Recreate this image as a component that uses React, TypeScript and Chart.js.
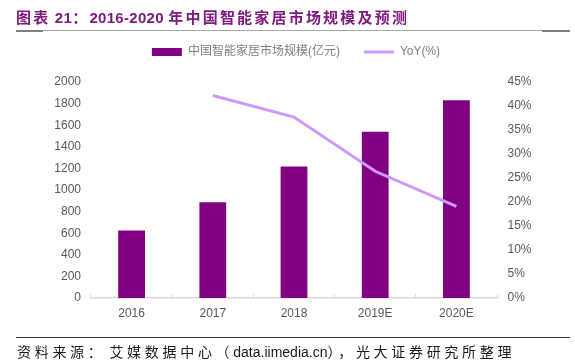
import React, { useEffect, useRef } from "react";
import { Chart, registerables } from "chart.js";

Chart.register(...registerables);

// ---- data ----
const categories = ["2016", "2017", "2018", "2019E", "2020E"];
const marketSize = [625, 887, 1218, 1539, 1831];
const yoyPct = [null, 42.2, 37.7, 26.4, 19.1];
const seriesNames = ["中国智能家居市场规模(亿元)", "YoY(%)"];
const leftAxis = { min: 0, max: 2000, step: 200 };
const rightAxis = { min: 0, max: 45, step: 5 };

const titleParts = [
  { t: "图表", cjk: true },
  { t: " 21", cjk: false },
  { t: "：", cjk: true },
  { t: "2016-2020 ", cjk: false },
  { t: "年中国智能家居市场规模及预测", cjk: true },
];
const footerParts = [
  { t: "资料来源：", cjk: true },
  { t: " ", cjk: false },
  { t: "艾媒数据中心（", cjk: true },
  { t: "data.iimedia.cn", cjk: false },
  { t: "），", cjk: true },
  { t: "光大证券研究所整理", cjk: true },
];

const LATIN = '"Liberation Sans", Arial, Helvetica, sans-serif';
const CJK = '"Noto Sans CJK SC", "Noto Sans", sans-serif';
const FONT = '"Liberation Sans", Arial, "Noto Sans CJK SC", sans-serif';

const BAR = "#800080";
const LINE = "#CC99FF";
const TITLE = "#7E1A80";

export default function App() {
  const ref = useRef<HTMLCanvasElement | null>(null);

  useEffect(() => {
    if (!ref.current) return;
    const chart = new Chart(ref.current, {
      type: "bar",
      data: {
        labels: categories,
        datasets: [
          {
            type: "bar",
            label: seriesNames[0],
            data: marketSize,
            backgroundColor: BAR,
            borderWidth: 0,
            yAxisID: "y",
            barPercentage: 0.33,
            categoryPercentage: 1,
            order: 2,
          },
          {
            type: "line",
            label: seriesNames[1],
            data: yoyPct as any,
            borderColor: LINE,
            backgroundColor: LINE,
            borderWidth: 3,
            pointRadius: 0,
            tension: 0,
            yAxisID: "y1",
            order: 1,
          },
        ],
      } as any,
      options: {
        responsive: false,
        animation: false,
        devicePixelRatio: 1,
        layout: { padding: { left: 17, right: 0, top: 22, bottom: 0 } },
        font: { family: FONT },
        plugins: {
          tooltip: { enabled: false },
          legend: {
            position: "top",
            labels: {
              usePointStyle: true,
              pointStyleWidth: 30,
              boxHeight: 8,
              padding: 24,
              color: "#808080",
              font: { size: 12, family: FONT },
              generateLabels: (c: any) =>
                c.data.datasets.map((ds: any, i: number) => ({
                  text: ds.label,
                  fillStyle: ds.backgroundColor,
                  strokeStyle: ds.borderColor ?? ds.backgroundColor,
                  lineWidth: i === 0 ? 0 : 3,
                  pointStyle: i === 0 ? "rect" : "line",
                  hidden: false,
                  datasetIndex: i,
                  fontColor: "#808080",
                })),
            },
          },
          subtitle: {
            display: true,
            text: " ",
            weight: 500,
            font: { size: 1, lineHeight: 1 },
            padding: { top: 0, bottom: 13 },
          },
        } as any,
        scales: {
          x: {
            grid: {
              display: true,
              drawOnChartArea: false,
              drawTicks: true,
              tickLength: -4,
              color: "#D9D9D9",
              offset: true,
            },
            border: { display: true, color: "#D9D9D9", width: 1.5 },
            ticks: { color: "#595959", font: { size: 12, family: FONT }, padding: 12 },
            afterFit: (s: any) => {
              s.height = 66;
            },
          },
          y: {
            position: "left",
            min: leftAxis.min,
            max: leftAxis.max,
            grid: { display: false, drawTicks: false },
            border: { display: false },
            ticks: {
              stepSize: leftAxis.step,
              color: "#595959",
              font: { size: 12, family: FONT },
              padding: 10,
              callback: (v: any) => String(v),
            },
            afterFit: (s: any) => {
              s.width = 74;
            },
          },
          y1: {
            position: "right",
            min: rightAxis.min,
            max: rightAxis.max,
            grid: { display: false, drawTicks: false },
            border: { display: false },
            ticks: {
              stepSize: rightAxis.step,
              color: "#595959",
              font: { size: 12, family: FONT },
              padding: 10.5,
              callback: (v: any) => `${v}%`,
            },
            afterFit: (s: any) => {
              s.width = 78;
            },
          },
        } as any,
      },
    });
    return () => chart.destroy();
  }, []);

  return (
    <div
      style={{
        position: "absolute",
        left: 0,
        top: 0,
        width: 575,
        height: 364,
        overflow: "hidden",
        background: "#fff",
      }}
    >
      <canvas
        ref={ref}
        width={575}
        height={364}
        style={{ position: "absolute", left: 0, top: 0, width: 575, height: 364 }}
      />
      <div
        style={{
          position: "absolute",
          left: 16,
          top: 7,
          fontSize: 15,
          lineHeight: "20px",
          fontWeight: 700,
          color: TITLE,
          whiteSpace: "nowrap",
        }}
      >
        {titleParts.map((p, i) => (
          <span
            key={i}
            style={{ fontFamily: p.cjk ? CJK : LATIN, letterSpacing: p.cjk ? 2.2 : 0.3 }}
          >
            {p.t}
          </span>
        ))}
      </div>
      <div style={{ position: "absolute", left: 16, top: 30, width: 554, height: 1, background: "#A6A6A6" }} />
      <div style={{ position: "absolute", left: 16, top: 30, width: 27, height: 1.5, background: "#7F7F7F" }} />
      <div style={{ position: "absolute", left: 542, top: 30, width: 28, height: 1.5, background: "#7F7F7F" }} />
      <div style={{ position: "absolute", left: 16, top: 337, width: 554, height: 1, background: "#333" }} />
      <div
        style={{
          position: "absolute",
          left: 17,
          top: 342,
          fontSize: 14,
          lineHeight: "18px",
          color: "#1a1a1a",
          whiteSpace: "nowrap",
        }}
      >
        {footerParts.map((p, i) => (
          <span
            key={i}
            style={{ fontFamily: p.cjk ? CJK : LATIN, letterSpacing: p.cjk ? 3.7 : 0 }}
          >
            {p.t}
          </span>
        ))}
      </div>
    </div>
  );
}
